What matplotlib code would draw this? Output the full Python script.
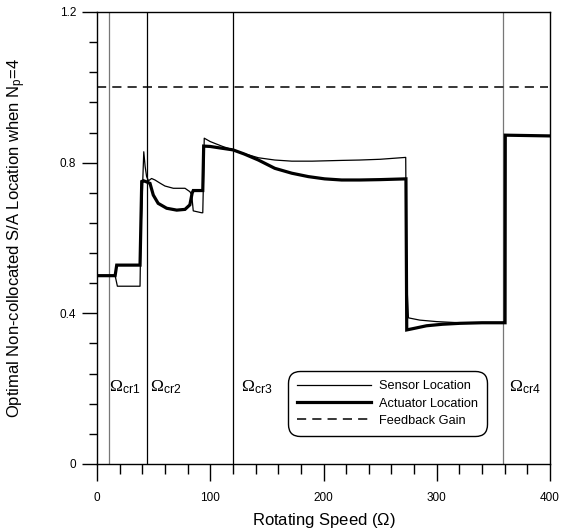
import matplotlib
matplotlib.use("Agg")
import matplotlib.pyplot as plt
from matplotlib.ticker import MultipleLocator, FixedLocator

plt.rcParams['font.family'] = ['Liberation Sans', 'DejaVu Sans']
plt.rcParams['mathtext.fontset'] = 'custom'
plt.rcParams['mathtext.rm'] = 'Liberation Serif'
plt.rcParams['mathtext.sf'] = 'Liberation Sans'
plt.rcParams['mathtext.it'] = 'Liberation Sans:italic'

# ---- data ----
sensor_x = [0, 16, 18, 38, 38.6, 40.5, 41.3, 42.5, 43.8, 45.5, 48.2, 51.2, 56, 60, 67.4,
            77.7, 82, 83.6, 85, 92.4, 93.4, 94.2, 94.7, 100, 105, 111, 120, 130, 142.5,
            157, 172, 190, 216, 232, 250, 272.6, 273.3, 275, 285, 300, 320, 340, 358.8,
            360.3, 360.6, 400]
sensor_y = [0.500, 0.500, 0.472, 0.472, 0.600, 0.760, 0.829, 0.790, 0.763, 0.752, 0.758,
            0.754, 0.745, 0.738, 0.732, 0.732, 0.723, 0.715, 0.672, 0.667, 0.667, 0.780,
            0.865, 0.856, 0.850, 0.843, 0.834, 0.824, 0.813, 0.807, 0.804, 0.804, 0.806,
            0.807, 0.809, 0.814, 0.500, 0.388, 0.382, 0.378, 0.375, 0.375, 0.375, 0.375,
            0.873, 0.871]

actuator_x = [0, 16, 17.4, 38, 39.5, 41, 43.8, 46.8, 49.7, 54, 61.5, 70.4, 77.7, 82, 84,
              85, 93.4, 94.2, 100, 111, 120, 130, 142.5, 157, 172, 186.6, 201, 216, 232,
              250, 272.8, 273.5, 280, 291, 305, 320.5, 340, 358.8, 360.3, 360.5, 400]
actuator_y = [0.500, 0.500, 0.528, 0.528, 0.750, 0.752, 0.749, 0.745, 0.714, 0.692, 0.679,
              0.674, 0.676, 0.688, 0.719, 0.726, 0.726, 0.844, 0.843, 0.838, 0.834, 0.823,
              0.807, 0.785, 0.772, 0.763, 0.757, 0.754, 0.754, 0.755, 0.757, 0.356, 0.360,
              0.367, 0.371, 0.3735, 0.375, 0.375, 0.375, 0.873, 0.871]

gain_x = [0, 398]
gain_y = [1.0, 1.0]

critical_speeds = [10.6, 44.4, 120.4, 358.2]
critical_labels = ['cr1', 'cr2', 'cr3', 'cr4']
critical_label_x = [11, 47, 127, 364]
critical_colors = ['#777777', 'black', 'black', '#777777']

x_ticks = [0, 100, 200, 300, 400]
y_ticks = [0, 0.4, 0.8, 1.2]
y_tick_labels = ['0', '0.4', '0.8', '1.2']

# ---- figure ----
fig = plt.figure(figsize=(5.67, 5.32), dpi=100)
ax = fig.add_axes([97/567, 68/532, 453/567, 452/532])

for xc, col in zip(critical_speeds, critical_colors):
    ax.axvline(xc, color=col, lw=0.9, zorder=1)

ax.plot(sensor_x, sensor_y, color='black', lw=0.9, label='Sensor Location', zorder=3)
ax.plot(actuator_x, actuator_y, color='black', lw=2.3, label='Actuator Location', zorder=2,
        solid_joinstyle='miter')
ax.plot(gain_x, gain_y, color='black', lw=1.1, ls=(0, (6, 4)), label='Feedback Gain')

for xl, lab in zip(critical_label_x, critical_labels):
    ax.text(xl, 0.205, r'$\mathrm{\Omega}_{\mathsf{%s}}$' % lab, fontsize=12.5,
            ha='left', va='center')

ax.set_xlim(0, 400)
ax.set_ylim(0, 1.2)
ax.xaxis.set_major_locator(FixedLocator(x_ticks))
ax.xaxis.set_minor_locator(MultipleLocator(20))
ax.yaxis.set_major_locator(FixedLocator(y_ticks))
ax.set_yticklabels(y_tick_labels)
ax.yaxis.set_minor_locator(MultipleLocator(0.08))

ax.tick_params(axis='x', which='major', direction='out', length=12, width=1.0,
               labelsize=8.5, pad=8)
ax.tick_params(axis='x', which='minor', direction='out', length=7, width=1.0)
ax.tick_params(axis='y', which='major', direction='out', length=11, width=1.0,
               labelsize=8.5, pad=4)
ax.tick_params(axis='y', which='minor', direction='out', length=6, width=1.0)
for s in ax.spines.values():
    s.set_linewidth(1.0)

ax.set_xlabel(r'Rotating Speed ($\mathsf{\Omega}$)', fontsize=12)
ax.xaxis.set_label_coords(0.5, -0.103)
ax.set_ylabel(r'Optimal Non-collocated S/A Location when N$_\mathsf{p}$=4', fontsize=12)
ax.yaxis.set_label_coords(-0.152, 0.5)

leg = ax.legend(loc='upper left', bbox_to_anchor=(0.428, 0.199), fontsize=9.2,
                frameon=True, fancybox=True, edgecolor='black', framealpha=1,
                handlelength=5.8, handletextpad=0.6, labelspacing=0.4,
                borderpad=0.5, borderaxespad=0)
leg.get_frame().set_linewidth(1.0)
leg.get_frame().set_boxstyle('round,pad=0.2,rounding_size=0.9')

fig.savefig('out.png', dpi=100)
